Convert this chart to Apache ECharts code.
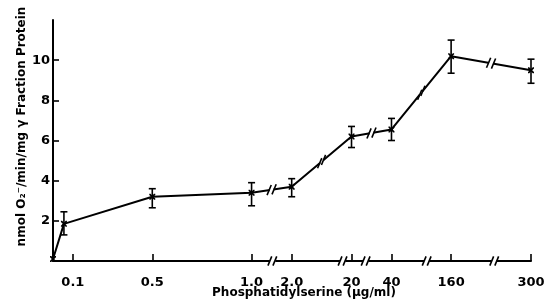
<!DOCTYPE html>
<html>
<head>
<meta charset="utf-8">
<script src="https://cdn.jsdelivr.net/npm/echarts@6.0.0/dist/echarts.min.js"></script>
<style>
  html, body { margin: 0; padding: 0; background: #fff; }
  #main { width: 547px; height: 304px; }
</style>
</head>
<body>
<div id="main"></div>
<script>
// concentration of phosphatidylserine (ug/ml)
var conc = [0, 0.055, 0.5, 1.0, 2.0, 20, 40, 160, 300];
// nmol O2-/min/mg
var rate = [0.1, 1.85, 3.2, 3.4, 3.7, 6.2, 6.55, 10.2, 9.5];
var errLow = [null, 1.3, 2.65, 2.75, 3.2, 5.65, 6.0, 9.35, 8.85];
var errHigh = [null, 2.45, 3.6, 3.9, 4.1, 6.7, 7.1, 11.0, 10.05];
var xTicks = [0.1, 0.5, 1.0, 2.0, 20, 40, 160, 300];
var xTickLabels = ['0.1', '0.5', '1.0', '2.0', '20', '40', '160', '300'];
var yTicks = [2, 4, 6, 8, 10];
// axis breaks (start, end of the cut-out range)
var axisBreaks = [[1.0894, 1.9177], [2.241, 19.97], [20.056, 39.885], [40.162, 159.892], [160.202, 299.83]];

var font = '"DejaVu Sans", sans-serif';

var myChart = echarts.init(document.getElementById('main'));

var lineData = conc.map(function (c, i) { return [c, rate[i]]; });
var errData = [];
conc.forEach(function (c, i) {
    if (errLow[i] != null) errData.push([c, errLow[i], errHigh[i]]);
});
// segments that carry a break mark on the curve (from 1.0 onward)
var segData = [];
for (var i = 3; i < conc.length - 1; i++) {
    segData.push([conc[i], rate[i], conc[i + 1], rate[i + 1]]);
}
var breakMarkData = axisBreaks.map(function (b) { return [b[0], b[1]]; });

function slashPair(cx, cy, dx, dy, ex, ey, h) {
    // two slashes centred at (cx,cy), offset along (dx,dy), slant (ex,ey)
    var out = [];
    [-1, 1].forEach(function (s) {
        var px = cx + s * dx, py = cy + s * dy;
        out.push({
            type: 'line',
            shape: { x1: px - ex * h, y1: py - ey * h, x2: px + ex * h, y2: py + ey * h },
            style: { stroke: '#000', lineWidth: 1.6 }
        });
    });
    return out;
}

var option = {
    backgroundColor: '#fff',
    animation: false,
    grid: { left: 53, right: 16, top: 20, bottom: 43, outerBoundsMode: 'none', containLabel: false },
    xAxis: {
        type: 'value',
        min: 0,
        max: 300,
        breaks: axisBreaks.map(function (b) { return { start: b[0], end: b[1], gap: 0.0303 }; }),
        breakArea: { show: false },
        name: 'Phosphatidylserine (\u00b5g/ml)',
        nameLocation: 'middle',
        nameGap: 26,
        nameMoveOverlap: false,
        nameTextStyle: { fontFamily: font, fontSize: 12, fontWeight: 'bold', color: '#000', padding: [0, 0, 0, 24] },
        splitLine: { show: false },
        axisLine: { lineStyle: { color: '#000', width: 2 } },
        axisTick: { show: true, inside: true, length: 7, customValues: xTicks, lineStyle: { color: '#000', width: 1.6 } },
        axisLabel: {
            customValues: xTicks,
            formatter: function (v) {
                var k = xTicks.indexOf(v);
                return k >= 0 ? xTickLabels[k] : '';
            },
            fontFamily: font, fontSize: 13, fontWeight: 'bold', color: '#000', margin: 15
        }
    },
    yAxis: {
        type: 'value',
        min: 0,
        max: 12,
        interval: 2,
        name: 'nmol O\u2082\u207b/min/mg \u03b3 Fraction Protein',
        nameLocation: 'middle',
        nameGap: 25,
        nameMoveOverlap: false,
        nameTextStyle: { fontFamily: font, fontSize: 12, fontWeight: 'bold', color: '#000', padding: [0, 0, 0, 28] },
        splitLine: { show: false },
        axisLine: { show: true, lineStyle: { color: '#000', width: 2 } },
        axisTick: { show: true, inside: true, length: 6, customValues: yTicks, lineStyle: { color: '#000', width: 1.6 } },
        axisLabel: {
            customValues: yTicks,
            fontFamily: font, fontSize: 13, fontWeight: 'bold', color: '#000', margin: 3
        }
    },
    series: [
        {
            type: 'line',
            data: lineData,
            symbol: 'path://M0,0L2,0L5,3L8,0L10,0L10,2L7,5L10,8L10,10L8,10L5,7L2,10L0,10L0,8L3,5L0,2Z',
            symbolSize: 6,
            itemStyle: { color: '#000' },
            lineStyle: { color: '#000', width: 2 },
            z: 3
        },
        {
            type: 'custom',
            data: errData,
            renderItem: function (params, api) {
                var x = api.value(0);
                var lo = api.coord([x, api.value(1)]);
                var hi = api.coord([x, api.value(2)]);
                var w = 3.5;
                var st = { stroke: '#000', lineWidth: 1.6 };
                return {
                    type: 'group',
                    children: [
                        { type: 'line', shape: { x1: lo[0], y1: lo[1], x2: hi[0], y2: hi[1] }, style: st },
                        { type: 'line', shape: { x1: lo[0] - w, y1: lo[1], x2: lo[0] + w, y2: lo[1] }, style: st },
                        { type: 'line', shape: { x1: hi[0] - w, y1: hi[1], x2: hi[0] + w, y2: hi[1] }, style: st }
                    ]
                };
            },
            z: 4
        },
        {
            // break marks on the curve
            type: 'custom',
            data: segData,
            renderItem: function (params, api) {
                var a = api.coord([api.value(0), api.value(1)]);
                var b = api.coord([api.value(2), api.value(3)]);
                var cx = (a[0] + b[0]) / 2, cy = (a[1] + b[1]) / 2;
                var L = Math.sqrt((b[0] - a[0]) * (b[0] - a[0]) + (b[1] - a[1]) * (b[1] - a[1]));
                var ux = (b[0] - a[0]) / L, uy = (b[1] - a[1]) / L;
                var kids = [{
                    type: 'line',
                    shape: { x1: cx - ux * 2, y1: cy - uy * 2, x2: cx + ux * 2, y2: cy + uy * 2 },
                    style: { stroke: '#fff', lineWidth: 4 }
                }];
                return { type: 'group', children: kids.concat(slashPair(cx, cy, ux * 2.5, uy * 2.5, 0.38, -0.92, 5.5)) };
            },
            z: 5
        },
        {
            // break marks on the x axis
            type: 'custom',
            data: breakMarkData,
            clip: false,
            renderItem: function (params, api) {
                var a = api.coord([api.value(0), 0]);
                var b = api.coord([api.value(1), 0]);
                var cx = (a[0] + b[0]) / 2, cy = a[1];
                var kids = [{
                    type: 'rect',
                    shape: { x: cx - 2.5, y: cy - 2, width: 5, height: 4 },
                    style: { fill: '#fff' }
                }];
                return { type: 'group', children: kids.concat(slashPair(cx, cy, 2.5, 0, 0.38, -0.92, 5)) };
            },
            z: 6
        }
    ]
};

myChart.setOption(option);
window.onresize = function () {
    myChart.resize();
};
</script>
</body>
</html>
